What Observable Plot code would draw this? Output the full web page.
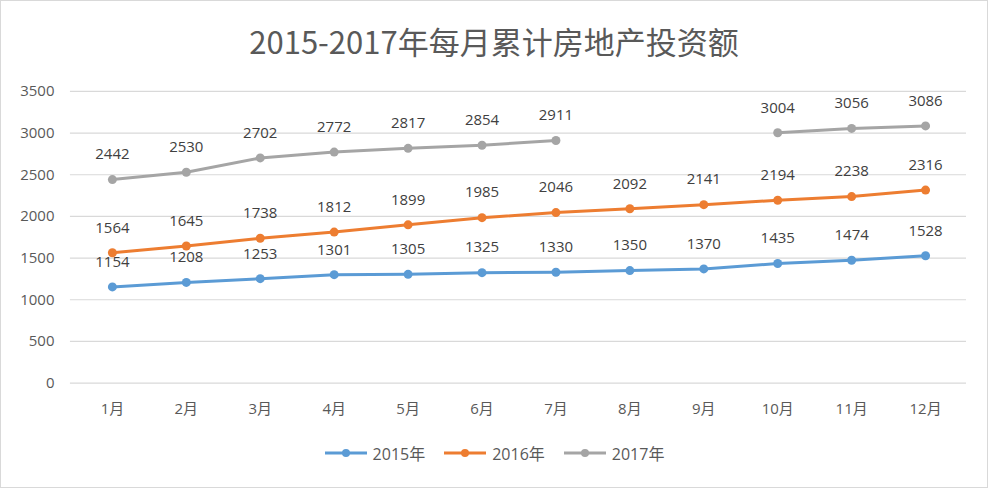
<!DOCTYPE html>
<html>
<head>
<meta charset="utf-8">
<script src="https://cdn.jsdelivr.net/npm/d3@7"></script>
<script src="https://cdn.jsdelivr.net/npm/@observablehq/plot@0.6"></script>
<style>
  html, body { margin: 0; padding: 0; background: #fff; }
  #wrap { position: relative; width: 988px; height: 488px; box-sizing: border-box; border: 1px solid #d9d9d9; overflow: hidden; font-family: "Open Sans", "Noto Sans CJK SC", sans-serif; }
  #title { position: absolute; left: 0; right: 0; top: 19px; text-align: center; font-family: "Noto Sans CJK SC", sans-serif; font-size: 31px; color: #595959; line-height: 42px; }
  #chart { position: absolute; left: -1px; top: -1px; }
  #legend { position: absolute; top: 440px; left: 0; right: 0; display: flex; justify-content: center; gap: 18px; font-size: 16px; color: #595959; }
  .item { display: flex; align-items: center; gap: 5px; }
</style>
</head>
<body>
<div id="wrap">
  <div id="chart"></div>
  <div id="title">2015-2017年每月累计房地产投资额</div>
  <div id="legend"></div>
</div>
<script>
const months = ["1月","2月","3月","4月","5月","6月","7月","8月","9月","10月","11月","12月"];
const years = ["2015年","2016年","2017年"];
const colors = ["#5b9bd5","#ed7d31","#a5a5a5"];
const v2015 = [1154,1208,1253,1301,1305,1325,1330,1350,1370,1435,1474,1528];
const v2016 = [1564,1645,1738,1812,1899,1985,2046,2092,2141,2194,2238,2316];
const v2017 = [2442,2530,2702,2772,2817,2854,2911,null,null,3004,3056,3086];
const yTicks = [0,500,1000,1500,2000,2500,3000,3500];

const series = [v2015, v2016, v2017];
const data = [];
series.forEach((vals, si) => vals.forEach((v, i) => data.push({month: months[i], year: years[si], value: v})));
const valid = data.filter(d => d.value != null);

const chart = Plot.plot({
  width: 988,
  height: 488,
  marginTop: 91,
  marginBottom: 105,
  marginLeft: 70,
  marginRight: 21,
  style: {fontFamily: '"Open Sans", "Noto Sans CJK SC", sans-serif', fontSize: "15px", color: "#595959", background: "transparent"},
  x: {type: "point", domain: months, padding: 0.5, label: null},
  y: {domain: [0, 3500], label: null},
  color: {domain: years, range: colors},
  marks: [
    Plot.gridY(yTicks, {stroke: "#d9d9d9", strokeOpacity: 1, strokeWidth: 1.2}),
    Plot.axisY(yTicks, {tickSize: 0, tickPadding: 16, fill: "#595959", fontSize: 15, label: null, tickFormat: d => String(d)}),
    Plot.axisX(months, {tickSize: 0, tickPadding: 20, fill: "#595959", fontSize: 15, label: null}),
    Plot.line(data, {x: "month", y: "value", z: "year", stroke: "year", strokeWidth: 3}),
    Plot.dot(valid, {x: "month", y: "value", fill: "year", r: 4.5}),
    Plot.text(valid, {x: "month", y: "value", text: d => String(d.value), dy: -25, fill: "#404040", fontSize: 15})
  ]
});
document.getElementById("chart").appendChild(chart);

const legend = document.getElementById("legend");
years.forEach((y, i) => {
  const item = document.createElement("div");
  item.className = "item";
  item.innerHTML = `<svg width="44" height="12"><line x1="1" x2="43" y1="6" y2="6" stroke="${colors[i]}" stroke-width="3"/><circle cx="22" cy="6" r="4" fill="${colors[i]}"/></svg><span>${y}</span>`;
  legend.appendChild(item);
});
</script>
</body>
</html>
